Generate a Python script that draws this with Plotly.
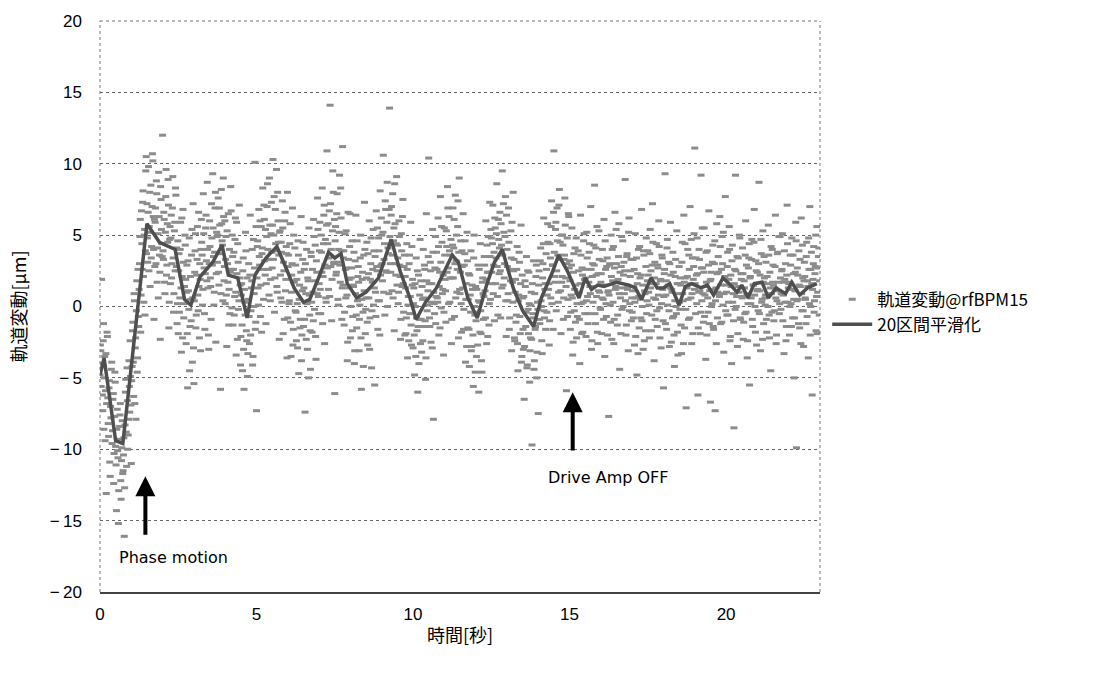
import plotly.graph_objects as go

# ---- data -------------------------------------------------------------
sample_interval = 0.025  # seconds between samples within each batch

# samples at t = i * sample_interval
orbit_um = [
    -4.8, -3.1, 1.9, -6.2, -2.4, -8.6, -3.5, -5.9, -13.1, -1.8,
    -6.4, -9.1, -5.2, -11.9, -7.8, -3.9, -8.7, -6.1, -10.3, -4.6,
    -9.8, -14.3, -7.2, -10.6, -12.9, -8.4, -6.8, -13.5, -9.9, -11.7,
    -10.4, -16.1, -8.3, -5.1, -11.2, -6.6, -9.0, -3.8, -7.4, -4.9,
    -11.0, -4.2, -1.1, -6.3, 0.4, -2.9, -7.9, 1.8, -3.6, -0.7,
    1.2, 4.9, -1.8, 6.7, 2.6, 8.1, 0.3, 5.4, 3.9, 10.5,
    7.2, 3.1, 9.8, 5.6, 1.4, 8.5, 4.2, 10.7, 6.3, -0.9,
    2.8, 6.9, 8.8, 1.7, 5.1, 9.4, 3.6, -2.3, 7.5, 4.4,
    12.0, 3.3, 6.1, 0.9, 7.7, 2.2, 5.8, 8.9, -1.5, 4.7,
    1.6, 6.4, 3.0, 9.1, -0.4, 5.3, 2.5, 7.8, 4.1, 0.2,
    -1.9, 3.7, 0.6, 5.9, -3.2, 2.1, 6.8, -0.8, 1.4, 4.3,
    -2.6, 2.9, -5.7, 1.1, 4.8, -1.4, 0.5, 3.6, -3.9, 7.2,
    -5.4, 2.4, 5.1, -0.6, 3.3, 0.8, 6.6, -2.2, 1.9, 4.0,
    4.5, 0.1, 7.9, 2.7, -1.6, 5.5, 3.2, 8.7, 1.3, -3.0,
    6.0, 2.0, -0.9, 4.8, 9.3, 3.5, 1.0, 6.9, -2.5, 5.2,
    3.1, 7.6, 1.5, 5.7, -5.8, 8.2, 4.6, 0.4, 6.3, 2.8,
    0.2, 4.9, -2.8, 3.0, 6.5, 1.2, -0.5, 8.4, 2.6, 5.0,
    -1.3, 3.8, 0.7, 6.2, -3.4, 2.3, 4.4, -0.2, 7.1, 1.5,
    -2.1, 1.6, -4.5, 3.4, -5.8, 0.3, 5.2, -1.7, 2.0, -3.3,
    3.0, -2.6, 6.4, -0.3, 1.8, -4.1, 4.7, 0.9, 10.1, -1.1,
    -7.3, 4.2, 1.3, 6.8, 2.9, -0.7, 5.6, 3.7, 8.3, 0.5,
    6.1, 2.2, -1.2, 4.9, 8.6, 3.3, 0.8, 5.7, 1.9, 7.3,
    2.7, 10.3, 5.0, -0.4, 6.8, 3.9, 1.4, 8.0, 4.5, -2.3,
    5.3, 0.6, 3.8, 7.4, -1.9, 2.5, 6.0, 1.1, 4.2, -3.6,
    -0.8, 3.6, 0.4, 5.8, -3.5, 2.2, 6.9, -1.6, 1.7, 4.1,
    2.9, -2.4, 0.2, 4.6, -4.7, 1.5, -0.9, 6.3, -2.0, 3.3,
    -1.4, 2.6, -7.4, 0.9, 4.0, -3.0, 1.8, 5.5, -0.6, -4.4,
    3.5, -1.8, 1.0, 6.1, -0.2, 4.3, -3.7, 2.4, 7.6, 0.7,
    1.6, 5.9, -0.5, 3.8, 8.3, 2.1, 6.4, -2.6, 4.7, 0.3,
    10.9, 4.4, 1.2, 6.7, 14.1, 2.8, -1.0, 5.3, 8.0, 3.1,
    -6.1, 5.6, 2.4, 7.9, 0.5, 4.0, 9.2, 1.7, 6.2, -0.9,
    11.2, 3.4, -1.3, 5.1, 0.6, 2.7, -3.8, 6.6, 1.3, 4.2,
    -2.2, 2.0, 4.6, -0.7, 1.4, -4.0, 3.2, 6.4, -1.5, 0.4,
    2.8, -3.1, 0.1, 5.0, -5.8, 1.9, -0.4, 3.6, 7.3, -1.9,
    0.6, 4.5, -2.7, 2.3, 6.0, -0.8, 3.0, -4.3, 1.7, 5.4,
    3.9, -5.5, 1.0, 6.7, 2.5, -1.6, 4.8, 0.4, 8.1, 2.9,
    5.0, 1.8, 10.6, 3.3, -0.6, 6.8, 2.4, 8.7, 4.1, 0.9,
    13.9, 3.0, 6.4, 1.1, 7.9, 4.6, -1.7, 5.8, 2.2, 9.1,
    4.3, 0.2, 6.0, 2.9, -2.3, 5.1, 1.4, 7.5, -0.4, 3.6,
    2.1, -1.9, 4.4, -3.6, 0.7, 3.0, -0.5, 5.9, -2.7, 1.5,
    -2.9, 1.3, -4.8, 0.0, 3.4, -1.7, -6.0, 2.2, -0.9, 4.7,
    1.8, -3.2, 0.5, 4.0, -1.4, 2.6, -5.1, 6.5, -0.3, 1.1,
    10.4, -0.8, 3.1, -2.5, 1.6, 5.4, -7.9, 0.2, 2.7, -1.2,
    3.8, 0.6, 6.2, -2.0, 2.4, 7.7, -0.1, 4.5, 1.2, -3.4,
    5.5, 1.9, -1.1, 4.2, 8.4, 2.7, 6.3, 0.3, 3.6, -2.6,
    2.0, 6.9, 4.1, -0.7, 7.8, 3.2, 1.0, 5.6, -2.2, 9.0,
    0.9, 4.6, -1.8, 2.8, 6.5, -0.2, 3.7, -3.9, 1.6, 5.2,
    -1.5, 2.3, -4.2, 0.8, 3.9, -2.8, 1.2, -5.6, 5.0, -0.6,
    1.4, -3.5, -0.4, 2.9, -6.0, 0.3, 4.4, -1.9, -4.6, 2.0,
    -0.9, 3.5, 1.1, 6.0, -2.6, 2.4, 4.9, -1.3, 7.3, 0.5,
    4.8, 1.6, 7.1, 2.9, -1.0, 5.5, 3.4, 8.6, 0.7, 6.1,
    2.3, 6.6, -0.8, 4.3, 9.5, 1.5, 5.2, 3.0, 7.7, -2.1,
    4.0, 0.4, 6.9, -1.6, 2.6, 5.3, -3.1, 1.7, 8.0, 3.3,
    -2.4, 1.9, -0.6, 4.2, -4.5, 0.8, 3.1, -1.9, 5.7, -3.5,
    0.6, -3.0, -6.5, 1.8, -1.4, 3.5, -4.1, -0.2, 2.4, -5.3,
    -2.2, 1.0, -9.7, -0.5, 3.2, -3.8, -1.6, 2.1, -5.0, 0.3,
    -7.5, 2.5, -1.2, 4.1, 0.0, -3.3, 3.0, 6.2, -0.8, 1.6,
    3.7, -0.4, 5.8, 1.2, -2.7, 4.4, 0.6, 7.4, 2.9, -1.6,
    10.9, 2.1, 5.4, -0.3, 6.9, 3.6, 1.0, 8.2, 4.5, -1.9,
    1.7, 5.0, -0.9, 3.3, 7.6, 2.0, -5.9, 4.8, 0.5, 6.3,
    3.2, -1.6, 0.8, 5.5, -3.4, 2.4, -0.3, 4.1, 1.5, -2.2,
    -0.7, 3.9, 1.0, -4.0, 6.4, 0.2, 2.7, -1.8, 4.6, 1.9,
    2.6, -2.1, 5.2, 0.7, -0.5, 3.8, 1.4, 7.0, -3.0, 2.1,
    0.3, 4.3, 8.5, -1.2, 2.2, 5.6, -2.6, 1.1, 3.3, -0.1,
    1.7, -1.9, 4.0, 0.5, 6.1, -3.5, 2.6, -0.7, 3.4, 1.0,
    -7.7, 2.9, 0.1, 5.0, -2.3, 1.8, 4.2, -0.9, 6.6, 1.4,
    3.0, -1.3, 1.9, 5.8, -4.4, 0.6, 2.8, -0.2, 4.6, 2.2,
    0.9, 8.9, -2.0, 3.5, 1.2, -3.1, 6.2, 0.2, 2.5, -1.0,
    -0.4, 3.3, 1.4, -2.7, 5.1, 0.6, -4.8, 2.3, 4.0, -1.5,
    2.0, -0.8, 6.8, 0.0, -3.0, 3.6, 1.1, -1.7, 4.8, 0.4,
    3.9, 1.0, -2.2, 5.4, 2.5, -0.6, 7.2, 1.6, -3.8, 3.1,
    0.5, 4.4, -1.4, 2.7, 6.0, -0.1, 1.8, -2.9, 3.6, 1.2,
    -5.7, 2.3, 9.3, 0.8, -1.6, 4.7, 1.5, -0.3, 3.0, 5.9,
    -2.5, 1.0, 3.8, -0.7, -4.2, 2.1, 0.0, 5.3, -1.8, 1.6,
    2.8, -0.2, 1.5, -3.3, 4.5, 0.4, 6.4, -1.5, 2.0, -7.1,
    1.3, 4.0, -0.9, 2.6, 7.0, 0.6, -2.6, 3.4, 1.9, 5.1,
    11.1, -0.5, 2.2, 4.8, -6.2, 1.0, 3.3, -1.9, 9.2, 0.4,
    2.7, -1.1, 5.5, 0.8, -3.7, 1.7, 3.9, -0.4, 6.7, 1.1,
    -6.7, 2.4, 0.2, 4.3, -1.6, 3.0, -7.3, 1.3, 5.8, -0.8,
    3.5, 0.9, 6.3, -1.2, 2.6, 4.9, 0.1, -3.2, 2.0, 7.7,
    1.5, -0.6, 3.8, 0.3, 5.6, -2.4, 2.2, -4.0, 4.3, 0.9,
    -8.5, 2.6, 9.2, 0.0, 3.5, -1.9, 1.4, 5.0, -0.8, 2.3,
    0.7, 4.1, -2.3, 1.8, -0.5, 6.0, 2.9, -3.6, 0.2, 3.4,
    -5.5, 2.1, 0.6, 4.7, -1.4, 1.5, 6.8, 0.0, 3.2, -2.7,
    2.4, -0.3, 8.7, 1.1, -3.1, 3.7, 0.5, 5.3, -1.2, 2.0,
    0.1, 3.1, -1.8, 1.6, 5.7, -0.6, 2.4, -4.5, 0.9, 4.0,
    2.9, -1.0, 1.3, 6.4, -2.6, 0.4, 3.8, 1.7, -0.5, 4.9,
    -0.2, 2.5, 5.1, 0.8, -3.3, 1.9, 3.0, -1.4, 7.1, 0.3,
    1.6, -2.0, 3.6, 0.2, 4.8, -0.8, 2.3, -5.0, 1.1, 5.9,
    -9.9, 2.7, 0.5, 3.9, -1.5, 1.4, 6.2, -0.3, 2.0, -2.8,
    3.1, 0.6, -1.2, 4.5, 1.8, -3.6, 2.6, 7.0, 0.0, 3.8,
    -6.2, 1.9, 4.2, 0.4, 2.8, -1.7, 5.6, 1.0, 3.5, -0.6,
]

# samples at t = (i + 0.5) * sample_interval
orbit_um_mid = [
    -2.7, -5.6, -4.0, -7.3, -1.2, -5.0, -9.4, -3.3, -6.8, -2.1,
    -8.2, -5.7, -10.9, -7.0, -4.4, -9.6, -6.5, -12.4, -7.7, -5.3,
    -11.1, -8.6, -10.1, -15.2, -9.3, -7.6, -12.2, -10.8, -8.0, -11.5,
    -9.2, -12.7, -6.0, -8.8, -4.3, -10.0, -7.9, -5.6, -2.4, -6.9,
    -5.2, -1.7, -3.9, 0.9, -6.8, -2.2, -0.3, -4.6, 2.6, -1.4,
    3.0, 6.1, 0.8, 4.4, 7.3, 2.1, 5.0, -0.6, 9.5, 3.7,
    4.8, 6.6, 2.5, 8.0, 5.2, 3.4, 7.0, 10.2, 4.0, 6.1,
    5.9, 3.0, 7.9, 4.1, 0.6, 6.3, 2.4, 8.4, 5.4, 3.5,
    3.9, 6.6, 1.7, 5.2, 9.6, 2.9, 4.5, 7.1, 0.3, 5.6,
    4.8, 2.0, 6.9, 3.4, 0.9, 5.9, 8.3, 2.8, -1.2, 4.6,
    2.5, -0.4, 4.0, 1.3, 6.2, -2.2, 3.1, 0.2, 5.0, 1.9,
    1.0, -1.9, 3.2, -0.2, -4.5, 2.1, -1.0, 5.4, 0.6, -2.9,
    0.4, 3.9, -1.5, 2.2, 5.6, -0.3, 1.4, 3.0, -3.1, 6.1,
    3.6, 1.2, 5.1, -0.5, 2.3, 6.4, 1.8, 4.0, -2.0, 3.0,
    4.2, 1.4, 7.2, 2.9, 5.5, 0.1, 3.8, 8.0, 2.3, 4.9,
    5.0, 2.4, 6.9, 3.7, 0.9, 5.8, 4.3, 9.0, 1.8, 6.0,
    3.3, 0.8, 5.3, 1.7, -1.3, 4.0, 2.4, 6.7, -0.1, 3.5,
    2.6, -0.6, 4.7, 1.0, 5.9, -2.3, 3.1, 0.4, 2.0, -4.1,
    0.8, -1.3, 2.5, -3.0, 1.2, -0.6, 3.9, -2.4, -4.9, 0.5,
    -0.7, 2.2, -2.0, 1.3, 4.0, -3.5, 0.0, 2.7, -1.6, 5.6,
    2.0, 4.6, 0.1, 3.5, 6.0, 1.5, -1.8, 4.1, 2.6, 7.1,
    3.2, 5.4, 1.6, 7.0, 4.0, 2.6, 9.0, 0.4, 5.1, 3.8,
    5.7, 3.3, 7.7, 2.0, 4.4, 9.6, 1.0, 6.0, 3.6, 5.2,
    2.2, 4.5, 0.3, 5.5, 3.1, -0.9, 6.6, 1.9, 3.7, 8.0,
    2.8, 0.2, 4.4, -1.1, 1.0, 3.0, -2.7, 5.0, 1.8, -0.3,
    -0.4, 1.9, -2.9, 3.6, 0.5, -1.5, 2.4, -3.8, 1.1, 4.5,
    1.3, -0.9, 3.0, -2.3, 0.2, 2.0, -5.0, 0.8, -1.7, 3.8,
    0.3, 2.6, -1.0, 4.9, 1.8, -2.1, 3.2, 0.9, 5.4, -0.5,
    3.9, 1.2, 5.0, 2.4, -1.2, 4.4, 7.1, 2.9, 0.6, 5.7,
    2.7, 5.8, 3.4, 0.7, 7.2, 4.0, 1.9, 9.5, 3.0, 6.1,
    4.6, 2.2, 6.5, 3.1, 0.1, 5.2, 2.9, 8.3, 3.9, 1.3,
    1.5, 3.9, -0.4, 2.6, 5.3, 0.8, -2.5, 3.3, 1.9, 6.5,
    0.0, 2.7, -1.7, 1.5, 3.8, -3.1, 0.9, -0.6, 4.6, 2.1,
    1.7, -0.9, 3.4, -2.2, 0.5, 2.4, -4.2, 1.1, 4.0, -0.2,
    2.0, -1.1, 3.7, 0.6, -3.0, 1.9, 4.8, -0.3, 2.6, 0.1,
    1.3, 3.5, -0.7, 2.8, 5.5, 0.4, 3.9, -2.0, 2.2, 6.2,
    3.0, 5.2, 1.0, 4.4, 7.4, 2.5, 5.9, 0.0, 3.7, 6.8,
    4.9, 2.4, 7.0, 3.6, 0.6, 5.5, 8.6, 3.0, 4.4, 1.5,
    3.4, 1.0, 4.9, 2.1, -0.9, 3.9, 6.3, 1.6, 2.8, -2.0,
    1.3, -0.8, 2.6, 0.1, -2.4, 3.6, 0.7, -1.3, 4.2, 1.9,
    0.2, -2.0, 1.6, -3.5, -0.8, 2.5, -1.4, -4.0, 0.8, -2.6,
    -0.9, 1.4, -2.4, 0.6, 2.9, -1.0, -3.6, 1.8, 0.1, 3.5,
    1.6, -1.4, 2.5, 0.3, -2.9, 3.8, 1.0, -0.5, 4.9, 0.7,
    2.6, 0.3, 4.2, 1.4, -1.5, 3.1, 5.6, 0.9, 2.2, -0.4,
    3.6, 1.1, 5.3, 2.4, 6.9, 0.2, 3.9, 2.0, 4.7, -0.9,
    4.3, 2.0, 6.1, 3.0, 0.6, 5.0, 2.6, 7.4, 3.8, 1.2,
    2.4, 0.2, 3.9, 1.3, -1.6, 2.9, 4.6, 0.5, -2.8, 3.2,
    0.5, -1.6, 2.2, -0.4, -3.1, 1.5, -2.0, 3.4, 0.0, -4.6,
    -1.0, 1.2, -2.7, 0.4, 2.6, -1.8, -0.3, -3.8, 1.7, 0.9,
    0.7, 2.9, -0.8, 1.9, 4.3, -2.1, 2.4, 0.2, 3.5, 5.4,
    2.4, 4.4, 0.9, 3.8, 6.2, 1.6, 5.1, 2.8, -0.6, 4.7,
    4.1, 2.5, 5.8, 1.3, 3.6, 7.2, 2.0, 4.9, 0.4, 6.4,
    2.8, 0.9, 4.5, -0.8, 1.8, 3.4, 5.9, 0.3, 2.5, -2.2,
    1.0, -1.1, 2.6, -2.6, 0.4, 3.8, -0.7, 1.6, -3.9, 2.2,
    -1.6, 0.7, -2.8, 1.4, -0.4, -4.3, 2.5, -1.9, 0.2, -3.1,
    0.1, -2.3, 1.6, -0.8, -4.4, 0.9, -1.4, 2.9, -3.2, -0.2,
    1.5, -0.9, 3.2, 0.4, -2.4, 2.0, 4.4, -0.3, 1.2, -1.6,
    2.6, 0.8, 4.5, 1.6, -1.0, 3.4, 5.6, 0.2, 2.9, 6.6,
    3.8, 1.7, 5.9, 2.5, 4.6, 0.3, 7.1, 3.3, 1.1, 5.0,
    2.1, 4.3, 0.6, 3.6, 5.7, 1.4, 3.0, -0.7, 6.5, 2.7,
    1.8, -0.4, 2.9, 0.6, -2.5, 3.7, 1.2, -1.1, 4.8, 0.2,
    0.9, 2.5, -0.9, 1.6, 3.6, -1.9, 2.2, 0.3, 5.1, -0.5,
    2.0, 0.4, 3.4, -1.2, 1.7, 4.4, 0.9, 2.6, -2.4, 3.0,
    1.4, 2.9, -0.5, 4.1, 0.7, -1.8, 2.3, 5.3, 1.0, -0.2,
    2.3, 0.6, 3.2, -0.9, 1.5, 4.6, 0.2, 2.8, -2.0, 1.1,
    0.8, 3.0, -1.1, 2.1, 4.0, 0.3, -2.6, 2.7, 1.2, 5.4,
    1.7, -0.6, 3.5, 0.9, 2.4, -1.9, 4.9, 1.3, 0.0, 3.1,
    2.5, 0.4, -1.3, 3.7, 1.4, 5.2, -0.3, 2.1, 3.3, 0.6,
    1.1, -0.8, 2.6, 0.3, -2.1, 3.4, 1.6, -3.3, 0.7, 4.2,
    0.5, 2.2, -1.0, 1.5, 3.9, -2.4, 0.9, 2.8, -0.5, 1.8,
    2.2, 0.1, 3.7, 1.3, -1.7, 2.9, 4.5, 0.6, 2.0, -0.9,
    1.6, -0.3, 2.9, 0.8, 4.2, -2.2, 1.9, 0.2, 3.4, -1.0,
    0.7, 2.6, -1.2, 1.8, 4.1, 0.1, 3.1, -2.8, 1.3, 2.2,
    1.2, -0.8, 2.4, -2.0, 0.4, 3.3, -0.5, 1.6, -3.4, 0.9,
    0.3, 2.0, -1.3, 3.1, 0.9, -2.6, 1.7, 4.4, -0.2, 1.4,
    2.1, 0.5, 3.6, -0.8, 1.6, 4.7, 0.9, -1.9, 2.8, 1.2,
    1.6, 3.4, 0.2, 2.3, -1.5, 4.0, 1.1, -0.4, 2.7, 5.5,
    0.9, 2.4, -0.7, 1.4, 3.8, -2.0, 0.6, 2.9, -1.2, 1.8,
    1.9, 0.0, 3.1, -1.4, 1.2, 4.6, 0.4, -2.6, 2.3, 1.0,
    2.4, 0.7, 4.2, 1.5, -1.1, 3.0, 5.2, 0.9, 2.1, -0.3,
    1.0, 2.8, -0.6, 1.9, 4.0, -2.1, 1.4, 3.2, 0.3, -1.0,
    1.6, -0.2, 2.5, 0.7, -2.8, 3.4, 1.0, 4.8, -0.9, 1.9,
    0.6, 2.3, -1.1, 1.3, 3.6, -0.4, 0.9, -2.4, 2.7, 4.4,
    2.0, 0.2, 3.3, -0.9, 1.5, 4.5, 0.8, -1.8, 2.5, 1.1,
    1.2, 3.0, -0.5, 2.2, 4.7, 0.3, -2.3, 1.7, 3.5, 0.6,
    0.8, -0.9, 2.1, 0.0, 3.6, -2.2, 1.3, 4.2, -0.4, 1.7,
    1.5, -0.3, 2.8, 0.6, -2.0, 3.7, 1.1, 4.9, 0.2, 2.0,
    0.9, 2.6, -1.0, 1.7, 3.9, 0.3, -2.4, 2.2, 4.4, 1.3,
    1.7, 0.0, 2.9, -1.4, 1.2, 3.6, 0.5, -0.8, 2.4, 4.6,
    0.4, 2.2, -1.2, 1.5, 3.3, -2.6, 0.9, 4.3, -0.3, 1.8,
    2.1, 0.5, 3.5, -0.7, 1.4, 4.8, 0.2, -2.0, 2.6, 1.6,
    1.2, 3.0, -0.4, 2.3, 5.0, 0.7, -1.9, 2.7, 4.1, 1.8,
]

smooth_t = [
    0.0, 0.13, 0.5, 0.73, 1.5, 1.9, 2.4, 2.7, 2.9, 3.2, 3.6, 3.9, 4.1, 4.4,
    4.7, 4.95, 5.3, 5.65, 6.0, 6.2, 6.5, 6.7, 7.0, 7.3, 7.5, 7.7, 7.9, 8.2,
    8.5, 8.9, 9.3, 9.6, 9.9, 10.1, 10.4, 10.75, 11.25, 11.45, 11.75, 12.05,
    12.35, 12.6, 12.85, 13.2, 13.5, 13.85, 14.1, 14.45, 14.65, 14.95, 15.3,
    15.5, 15.7, 15.9, 16.1, 16.5, 16.9, 17.1, 17.3, 17.6, 17.8, 18.0, 18.2,
    18.5, 18.7, 18.9, 19.2, 19.4, 19.6, 19.9, 20.1, 20.35, 20.5, 20.7, 20.9,
    21.15, 21.35, 21.6, 21.9, 22.1, 22.35, 22.6, 22.9,
]
smooth_um = [
    -4.8, -3.6, -9.4, -9.6, 5.8, 4.5, 4.0, 0.5, 0.1, 2.1, 3.1, 4.3, 2.2, 2.0,
    -0.8, 2.2, 3.4, 4.2, 2.4, 1.3, 0.3, 0.5, 2.1, 3.8, 3.4, 3.7, 1.6, 0.6,
    1.0, 2.0, 4.7, 2.4, 0.6, -0.9, 0.3, 1.3, 3.6, 3.1, 0.6, -0.8,
    1.5, 3.1, 4.0, 1.3, -0.3, -1.4, 0.6, 2.4, 3.6, 2.4, 0.6,
    2.0, 1.2, 1.5, 1.4, 1.7, 1.5, 1.3, 0.5, 2.0, 1.3, 1.3, 1.6,
    0.1, 1.4, 1.6, 1.3, 1.5, 0.8, 2.0, 1.6, 1.0, 1.5, 0.6, 1.6,
    1.7, 0.6, 1.3, 0.9, 1.7, 0.8, 1.3, 1.6,
]

x_ticks = [0, 5, 10, 15, 20]
y_ticks = [-20, -15, -10, -5, 0, 5, 10, 15, 20]

series_names = ["軌道変動@rfBPM15", "20区間平滑化"]
x_title = "時間[秒]"
y_title = "軌道変動[μm]"

notes = [
    {"text": "Phase motion", "tip": (1.45, -11.9), "tail": (1.45, -16.1), "label": (0.55, -17.6)},
    {"text": "Drive Amp OFF", "tip": (15.1, -6.0), "tail": (15.1, -10.2), "label": (14.25, -12.0)},
]

orbit_t = [i * sample_interval for i in range(len(orbit_um))] + \
          [(i + 0.5) * sample_interval for i in range(len(orbit_um_mid))]
orbit_all = orbit_um + orbit_um_mid

# ---- figure -----------------------------------------------------------
font_num = "Liberation Sans, Noto Sans CJK JP, sans-serif"
font_jp = "Noto Sans CJK JP, sans-serif"
dot_grey = "#8c8c8c"

fig = go.Figure()
fig.add_trace(go.Scatter(
    x=orbit_t, y=orbit_all, mode="markers", name=series_names[0],
    marker=dict(symbol="line-ew-open", size=5, color=dot_grey,
                line=dict(width=3, color=dot_grey)),
))
fig.add_trace(go.Scatter(
    x=smooth_t, y=smooth_um, mode="lines", name=series_names[1],
    line=dict(color="#4f4f4f", width=3.5),
))

for n in notes:
    fig.add_annotation(
        x=n["tip"][0], y=n["tip"][1], ax=n["tail"][0], ay=n["tail"][1],
        xref="x", yref="y", axref="x", ayref="y", text="",
        showarrow=True, arrowhead=2, arrowsize=1, arrowwidth=4, arrowcolor="black",
    )
    fig.add_annotation(
        x=n["label"][0], y=n["label"][1], xref="x", yref="y", text=n["text"],
        showarrow=False, xanchor="left", yanchor="middle",
        font=dict(size=16, color="black", family="DejaVu Sans, sans-serif"),
    )

# dotted frame of the plot area
for (x0, y0, x1, y1) in [(0, 1, 1, 1), (0, 0, 0, 1), (1, 0, 1, 1)]:
    fig.add_shape(type="line", xref="paper", yref="paper", x0=x0, y0=y0, x1=x1, y1=y1,
                  line=dict(color="#777777", width=1, dash="dot"))

fig.update_layout(
    width=1099, height=673,
    margin=dict(l=100, r=279, t=19, b=81),
    paper_bgcolor="white", plot_bgcolor="white",
    font=dict(family=font_num, size=17, color="black"),
    showlegend=True,
    legend=dict(x=1.01, y=0.49, xanchor="left", yanchor="middle",
                font=dict(size=17, family=font_jp),
                bgcolor="rgba(0,0,0,0)", itemwidth=40, tracegroupgap=0),
)
fig.update_xaxes(
    range=[0, 23], tickvals=x_ticks, ticktext=[str(v) for v in x_ticks],
    showgrid=False, zeroline=False, showline=True, linecolor="#444444", linewidth=2,
    ticks="", tickfont=dict(size=17), ticklabelstandoff=6,
    title=dict(text=x_title, font=dict(size=18, family=font_jp), standoff=6),
)
fig.update_yaxes(
    range=[-20, 20], tickvals=y_ticks,
    ticktext=[(("\u2212\u2009" + str(-v)) if v < 0 else str(v)) for v in y_ticks],
    showgrid=True, gridcolor="#666666", griddash="dot", gridwidth=1,
    zeroline=False, showline=False, ticks="", tickfont=dict(size=17), ticklabelstandoff=17,
    title=dict(text=y_title, font=dict(size=18, family=font_jp), standoff=18),
)

fig.write_html("out.html")
